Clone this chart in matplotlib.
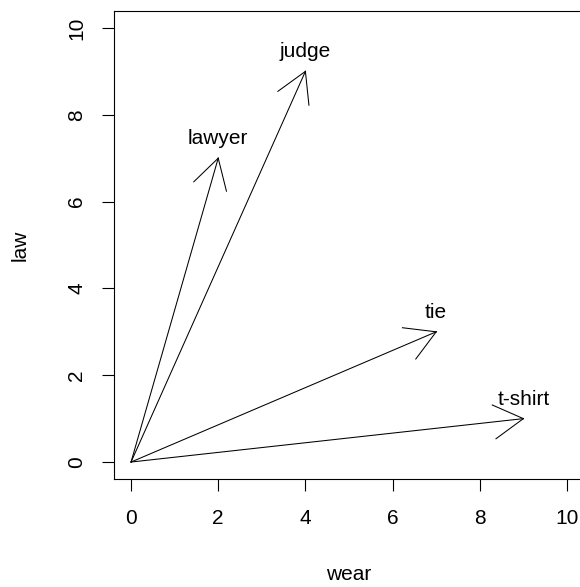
import numpy as np
import matplotlib
matplotlib.use("Agg")
import matplotlib.pyplot as plt

words = ["lawyer", "judge", "tie", "t-shirt"]
wear = [2, 4, 7, 9]
law = [7, 9, 3, 1]
ticks = [0, 2, 4, 6, 8, 10]

plt.rcParams['font.family'] = ['Liberation Sans', 'DejaVu Sans']
W, H = 580, 587
fig = plt.figure(figsize=(W / 100, H / 100), dpi=100)
ax = fig.add_axes([113.6 / W, (H - 479.4) / H, 470.8 / W, 468.8 / H])
ax.set_xlim(-0.4, 10.4)
ax.set_ylim(-0.4, 10.4)
for s in ax.spines.values():
    s.set_linewidth(0.8)
ax.set_xticks(ticks)
ax.set_yticks(ticks)
ax.set_xticklabels([str(t) for t in ticks])
ax.set_yticklabels([str(t) for t in ticks], rotation=90, va='center')
ax.tick_params(axis='both', direction='out', length=8.6, width=0.8, labelsize=15)
ax.tick_params(axis='x', pad=13)
ax.tick_params(axis='y', pad=11)

fig.text(348.5 / W, 1 - 575 / H, "wear", ha='center', va='center', fontsize=15)
fig.text(20 / W, 1 - 245 / H, "law", ha='center', va='center', rotation=90, fontsize=15)

lw = 0.75
head = 34.0
ang = np.deg2rad(30)
T = ax.transData
Ti = T.inverted()
for w, x, y in zip(words, wear, law):
    ax.plot([0, x], [0, y], color='black', lw=lw)
    p0 = T.transform((0, 0))
    p1 = T.transform((x, y))
    d = p1 - p0
    th = np.arctan2(d[1], d[0])
    for sgn in (1, -1):
        a = th + np.pi + sgn * ang
        q = p1 + head * np.array([np.cos(a), np.sin(a)])
        qd = Ti.transform(q)
        ax.plot([x, qd[0]], [y, qd[1]], color='black', lw=lw)
    ax.annotate(w, (x, y), xytext=(0, 10), textcoords='offset points',
                ha='center', va='baseline', fontsize=15)

fig.savefig("out.png", dpi=100)
